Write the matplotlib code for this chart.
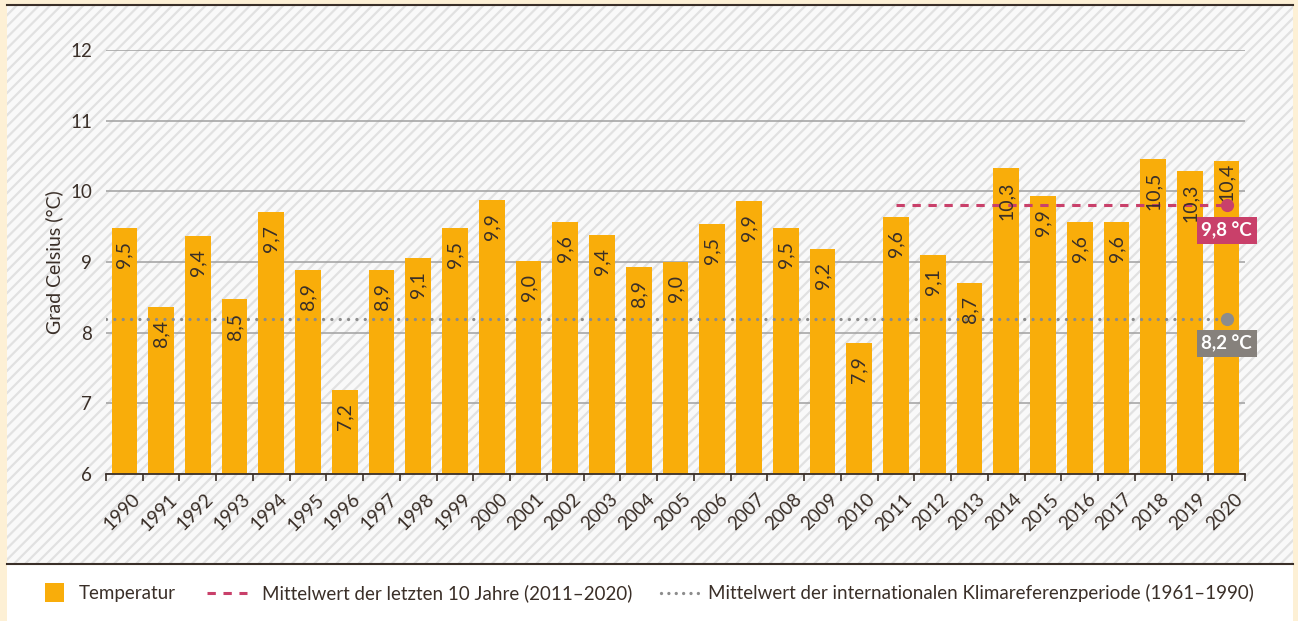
import numpy as np
import matplotlib.pyplot as plt
import matplotlib.transforms as mtransforms
from matplotlib.patches import Rectangle
from matplotlib.lines import Line2D

# data
years = list(range(1990, 2021))
temps = [9.48, 8.37, 9.37, 8.47, 9.71, 8.89, 7.19, 8.89, 9.06, 9.48,
         9.88, 9.01, 9.57, 9.38, 8.93, 9.00, 9.54, 9.86, 9.48, 9.18,
         7.86, 9.64, 9.10, 8.70, 10.33, 9.93, 9.56, 9.56, 10.46, 10.29, 10.43]
temp_labels = ['9,5', '8,4', '9,4', '8,5', '9,7', '8,9', '7,2', '8,9', '9,1', '9,5',
               '9,9', '9,0', '9,6', '9,4', '8,9', '9,0', '9,5', '9,9', '9,5', '9,2',
               '7,9', '9,6', '9,1', '8,7', '10,3', '9,9', '9,6', '9,6', '10,5', '10,3', '10,4']
recent_years = (2011, 2020)
recent_mean = 9.8
ref_mean = 8.2
recent_label = '9,8 °C'
ref_label = '8,2 °C'
legend_labels = ['Temperatur',
                 'Mittelwert der letzten 10 Jahre (2011–2020)',
                 'Mittelwert der internationalen Klimareferenzperiode (1961–1990)']

W, H = 1298, 621
TEXT = '#3a2f28'
BAR = '#F9AD0A'
RED = '#C9406A'
GREY = '#86817C'
CREAM = '#FDF0D5'
FS = 13.5

plt.rcParams['font.family'] = ['Lato', 'DejaVu Sans']
plt.rcParams['lines.scale_dashes'] = False
plt.rcParams['hatch.color'] = '#e1e1e1'
plt.rcParams['hatch.linewidth'] = 1.6


def fx(px):
    return px / W


def fy(py):
    return 1 - py / H


fig = plt.figure(figsize=(W / 100, H / 100), dpi=100, facecolor=CREAM)

# hatched panel and white legend strip
fig.add_artist(Rectangle((fx(7), fy(564)), fx(1293) - fx(7), fy(5) - fy(564),
                         transform=fig.transFigure, facecolor='#f9f9f9',
                         edgecolor='#e1e1e1', hatch='///', linewidth=0, zorder=-2))
fig.add_artist(Rectangle((fx(7), 0), fx(1293) - fx(7), fy(564),
                         transform=fig.transFigure, facecolor='white',
                         linewidth=0, zorder=-1))
for yy in (5, 564):
    fig.add_artist(Line2D([fx(7), fx(1293)], [fy(yy), fy(yy)],
                          transform=fig.transFigure, color=TEXT, lw=1.5))

ax = fig.add_axes([fx(106), fy(474), fx(1245) - fx(106), fy(50) - fy(474)])
ax.set_facecolor('none')

x = np.arange(len(years))
ax.bar(x, temps, width=0.7, color=BAR, zorder=2)
ax.set_xlim(-0.5, len(years) - 0.5)
ax.set_ylim(6, 12)

for i, (v, lab) in enumerate(zip(temps, temp_labels)):
    off = -1 if years[i] == 2020 else -9.5
    ax.annotate(lab, (i, v), xytext=(0, off), textcoords='offset points',
                rotation=90, ha='center', va='top', fontsize=FS + 0.5,
                color=TEXT, zorder=4)

# mean lines
i0 = years.index(recent_years[0])
i1 = years.index(recent_years[1])
ax.plot([i0, i1], [recent_mean, recent_mean], color=RED, lw=2.2,
        dashes=(6, 5.5), zorder=3)
ax.plot([-0.5, i1], [ref_mean, ref_mean], color='#8c8c8c', lw=2.4,
        dashes=(0.01, 6), dash_capstyle='round', zorder=3)
ax.plot(i1, recent_mean, 'o', color=RED, ms=8.5, zorder=5)
ax.plot(i1, ref_mean, 'o', color='#8c8c8c', ms=8.5, zorder=5)
for val, lab, col in ((recent_mean, recent_label, RED), (ref_mean, ref_label, GREY)):
    ax.annotate(lab, (i1, val), xytext=(0, -18), textcoords='offset points',
                ha='center', va='center', fontsize=FS, fontweight='bold',
                color='white', zorder=6,
                bbox=dict(boxstyle='square,pad=0.25', facecolor=col, edgecolor='none'))

# axes styling
ax.set_yticks(range(6, 13))
ax.yaxis.grid(True, color='#a0a0a0', lw=1.1, zorder=1)
ax.set_axisbelow(True)
ax.tick_params(axis='y', length=0, pad=10, labelsize=FS, labelcolor=TEXT)
for s in ('top', 'right', 'left'):
    ax.spines[s].set_visible(False)
ax.spines['bottom'].set_color(TEXT)
ax.spines['bottom'].set_linewidth(1.3)
ax.spines['bottom'].set_zorder(4)

ax.set_xticks(x)
ax.set_xticklabels([str(y) for y in years], rotation=45, ha='right',
                   va='top', rotation_mode='anchor')
ax.set_xticks(np.arange(-0.5, len(years)), minor=True)
ax.tick_params(axis='x', which='major', length=0, pad=12, labelsize=FS,
               labelcolor=TEXT)
ax.tick_params(axis='x', which='minor', length=5, width=1.2, color=TEXT,
               direction='out')
shift = mtransforms.ScaledTranslation(0.07, 0, fig.dpi_scale_trans)
for t in ax.get_xticklabels():
    t.set_transform(t.get_transform() + shift)

ax.set_ylabel('Grad Celsius (°C)', fontsize=FS + 0.5, color=TEXT)
ax.yaxis.set_label_coords((63 - 106) / (1245 - 106), 0.5)

# legend drawn along the bottom strip
ly = fy(593)
fig.add_artist(Rectangle((fx(45), fy(602)), fx(64) - fx(45), fy(583) - fy(602),
                         transform=fig.transFigure, facecolor=BAR, linewidth=0))
fig.text(fx(79), ly, legend_labels[0], ha='left', va='center',
         fontsize=FS, color=TEXT)
fig.add_artist(Line2D([fx(207), fx(247)], [ly, ly], transform=fig.transFigure,
                      color=RED, lw=2.2, dashes=(6, 5.5)))
fig.text(fx(262), ly, legend_labels[1], ha='left', va='center',
         fontsize=FS, color=TEXT)
fig.add_artist(Line2D([fx(661), fx(698)], [ly, ly], transform=fig.transFigure,
                      color='#8c8c8c', lw=2.4, dashes=(0.01, 5.3),
                      dash_capstyle='round'))
fig.text(fx(708), ly, legend_labels[2], ha='left', va='center',
         fontsize=FS, color=TEXT)

fig.savefig('out.png', dpi=100, facecolor=CREAM)
